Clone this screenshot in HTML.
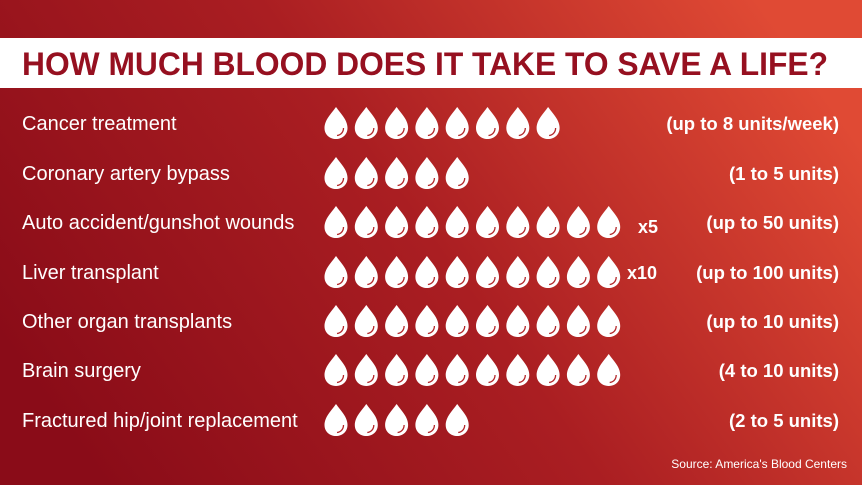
<!DOCTYPE html>
<html><head><meta charset="utf-8"><style>
html,body{margin:0;padding:0;}
body{width:862px;height:485px;overflow:hidden;}
svg text{font-family:"Liberation Sans",sans-serif;}
</style></head><body>
<svg width="862" height="485" viewBox="0 0 862 485" xmlns="http://www.w3.org/2000/svg" xmlns:xlink="http://www.w3.org/1999/xlink">
<defs>
<linearGradient id="bg" x1="0" y1="0.7" x2="1" y2="0.3">
<stop offset="0" stop-color="#8a0c18"/>
<stop offset="0.5" stop-color="#aa1e22"/>
<stop offset="1" stop-color="#e04a34"/>
</linearGradient>
<g id="d">
<path d="M0,-16 C5,-9 11.5,-3 11.5,5 C11.5,12 6,16 0,16 C-6,16 -11.5,12 -11.5,5 C-11.5,-3 -5,-9 0,-16 Z" fill="#fff"/>
<path d="M7.5,5 C7.5,9 5,12 1,12.5" stroke="#b3272a" stroke-width="1.3" fill="none"/>
</g>
<g id="r5">
<use xlink:href="#d" x="336"/><use xlink:href="#d" x="366.3"/><use xlink:href="#d" x="396.6"/><use xlink:href="#d" x="426.9"/><use xlink:href="#d" x="457.2"/>
</g>
<g id="r8">
<use xlink:href="#r5"/><use xlink:href="#d" x="487.5"/><use xlink:href="#d" x="517.8"/><use xlink:href="#d" x="548.1"/>
</g>
<g id="r10">
<use xlink:href="#r8"/><use xlink:href="#d" x="578.4"/><use xlink:href="#d" x="608.7"/>
</g>
</defs>
<rect width="862" height="485" fill="url(#bg)"/>
<rect x="0" y="38" width="862" height="50" fill="#fff"/>
<text x="22" y="75" font-size="32" font-weight="bold" fill="#961020" textLength="806" lengthAdjust="spacingAndGlyphs">HOW MUCH BLOOD DOES IT TAKE TO SAVE A LIFE?</text>
<g fill="#fff" font-size="20">
<text x="22" y="130">Cancer treatment</text>
<text x="22" y="180">Coronary artery bypass</text>
<text x="22" y="229">Auto accident/gunshot wounds</text>
<text x="22" y="279">Liver transplant</text>
<text x="22" y="328">Other organ transplants</text>
<text x="22" y="377">Brain surgery</text>
<text x="22" y="427">Fractured hip/joint replacement</text>
</g>
<g fill="#fff" font-size="18.5" font-weight="bold" text-anchor="end">
<text x="839" y="130">(up to 8 units/week)</text>
<text x="839" y="180">(1 to 5 units)</text>
<text x="839" y="229">(up to 50 units)</text>
<text x="839" y="279">(up to 100 units)</text>
<text x="839" y="328">(up to 10 units)</text>
<text x="839" y="377">(4 to 10 units)</text>
<text x="839" y="427">(2 to 5 units)</text>
</g>
<g fill="#fff" font-size="18" font-weight="bold">
<text x="638" y="233">x5</text>
<text x="627" y="279">x10</text>
</g>
<text x="847" y="468" fill="#fff" font-size="12" text-anchor="end">Source: America's Blood Centers</text>
<use xlink:href="#r8" y="123"/>
<use xlink:href="#r5" y="173"/>
<use xlink:href="#r10" y="222"/>
<use xlink:href="#r10" y="272"/>
<use xlink:href="#r10" y="321"/>
<use xlink:href="#r10" y="370"/>
<use xlink:href="#r5" y="420"/>
</svg>
</body></html>
